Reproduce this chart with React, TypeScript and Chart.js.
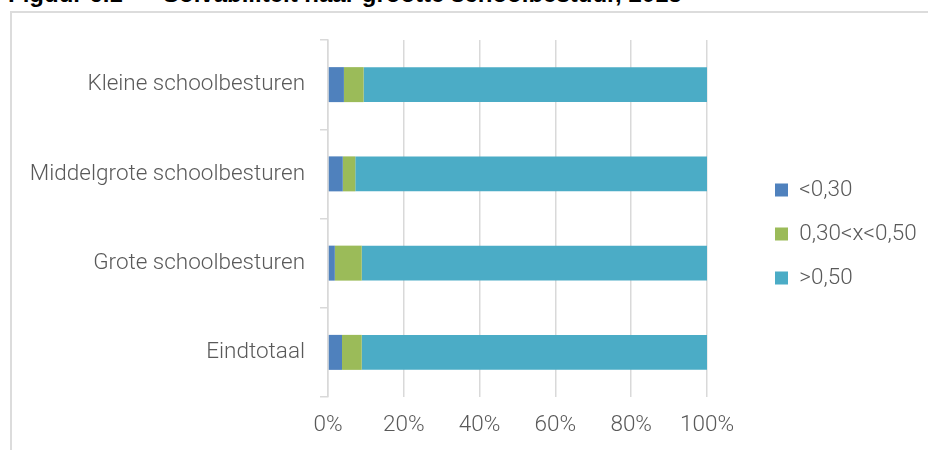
import React, { useEffect, useRef } from "react";
import { Chart, registerables } from "chart.js";

Chart.register(...registerables);

const categories = [
  "Kleine schoolbesturen",
  "Middelgrote schoolbesturen",
  "Grote schoolbesturen",
  "Eindtotaal",
];
const seriesNames = ["<0,30", "0,30<x<0,50", ">0,50"];
const lowValues = [4.2, 3.9, 1.8, 3.7];
const midValues = [5.2, 3.3, 7.1, 5.2];
const highValues = [90.6, 92.8, 91.1, 91.1];
const seriesColors = ["#4F81BD", "#9BBB59", "#4BACC6"];
const xTickStep = 20;
const xMax = 100;

const FONT = "Roboto";
const FONT_WEIGHT = 300;
const FONT_SIZE = 22.5;
const TEXT_COLOR = "#595959";
const GRID_COLOR = "#d9d9d9";

export default function App() {
  const ref = useRef<HTMLCanvasElement>(null);

  useEffect(() => {
    const legendShift = {
      id: "legendShift",
      afterLayout(chart: any) {
        const lg = chart.legend;
        if (!lg) return;
        const p = lg.options.labels.padding;
        const w = lg.width;
        const h = lg.height;
        lg.left = 775 - p;
        lg.right = lg.left + w;
        lg.top = 190 - FONT_SIZE / 2 - p;
        lg.bottom = lg.top + h;
      },
    };

    const font = { family: FONT, size: FONT_SIZE, weight: FONT_WEIGHT as any };

    const chart = new Chart(ref.current!, {
      type: "bar",
      data: {
        labels: categories,
        datasets: [
          { label: seriesNames[0], data: lowValues, backgroundColor: seriesColors[0], borderWidth: 0 },
          { label: seriesNames[1], data: midValues, backgroundColor: seriesColors[1], borderWidth: 0 },
          { label: seriesNames[2], data: highValues, backgroundColor: seriesColors[2], borderWidth: 0 },
        ],
      },
      options: {
        indexAxis: "y",
        responsive: false,
        animation: false,
        devicePixelRatio: 1,
        layout: { padding: { top: 40, left: 0, right: 0, bottom: 0 } },
        datasets: { bar: { barPercentage: 0.392, categoryPercentage: 1 } },
        scales: {
          x: {
            stacked: true,
            min: 0,
            max: xMax,
            ticks: {
              stepSize: xTickStep,
              callback: (v: any) => v + "%",
              color: TEXT_COLOR,
              font,
              padding: 15,
              maxRotation: 0,
            },
            grid: { color: GRID_COLOR, lineWidth: 1.5, drawTicks: false },
            border: { display: false },
            afterFit: (s: any) => {
              s.paddingRight = 221;
              s.height = 53;
            },
          },
          y: {
            stacked: true,
            ticks: {
              color: TEXT_COLOR,
              font,
              padding: 15,
            },
            grid: {
              offset: true,
              drawOnChartArea: false,
              drawTicks: true,
              tickLength: 8,
              color: GRID_COLOR,
              lineWidth: 1.5,
            },
            border: { display: true, color: GRID_COLOR, width: 1.5 },
            afterFit: (s: any) => {
              s.width = 328;
            },
          },
        },
        plugins: {
          legend: {
            position: "right",
            align: "start",
            labels: {
              boxWidth: 13,
              boxHeight: 13,
              padding: 44 - FONT_SIZE,
              color: TEXT_COLOR,
              font,
            },
          },
          tooltip: { enabled: false },
        },
      },
      plugins: [legendShift],
    });
    return () => chart.destroy();
  }, []);

  const titleStyle: React.CSSProperties = {
    position: "absolute",
    top: -18,
    fontFamily: "'Liberation Sans', Arial, sans-serif",
    fontWeight: "bold",
    fontSize: 24,
    lineHeight: "24px",
    whiteSpace: "nowrap",
    color: "#000",
  };

  return (
    <div style={{ position: "absolute", left: 0, top: 0, width: 928, height: 450, overflow: "hidden", background: "#fff" }}>
      <div style={{ ...titleStyle, left: 8 }}>Figuur 6.1</div>
      <div style={{ ...titleStyle, left: 163 }}>Solvabiliteit naar grootte schoolbestuur, 2015</div>
      <div
        style={{
          position: "absolute",
          left: 10,
          top: 11,
          width: 1000,
          height: 1000,
          border: "2px solid #dcdcdc",
        }}
      />
      <canvas ref={ref} width={928} height={450} style={{ position: "absolute", left: 0, top: 0 }} />
    </div>
  );
}
